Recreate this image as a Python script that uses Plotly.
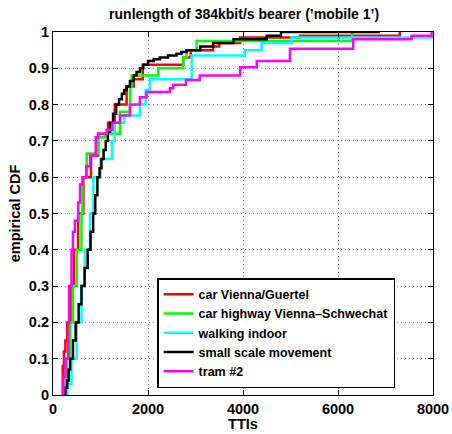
import plotly.graph_objects as go

# ---- data (step CDFs) ----
names = ["car Vienna/Guertel", "car highway Vienna\u2013Schwechat", "walking indoor",
         "small scale movement", "tram #2"]
colors = ["#ff0000", "#00ff00", "#00ffff", "#000000", "#ff00ff"]

red_x = [200, 205, 230, 260, 300, 370, 440, 530, 640, 800, 950, 1160, 1300, 1550, 1700,
         1890, 2740, 2900, 3370, 3500, 3940, 5200, 7300]
red_y = [0.0, 0.08, 0.12, 0.15, 0.2, 0.3, 0.4, 0.5, 0.6, 0.66, 0.72, 0.75, 0.8, 0.85, 0.87,
         0.91, 0.93, 0.95, 0.96, 0.97, 0.985, 0.99, 1.0]

green_x = [250, 270, 290, 360, 420, 500, 600, 620, 709, 954, 1100, 1410, 1621, 1656, 2217,
           2743, 2814, 3024, 6300]
green_y = [0.0, 0.05, 0.1, 0.2, 0.3, 0.4, 0.5, 0.6, 0.665, 0.71, 0.72, 0.78, 0.85, 0.88, 0.9,
           0.93, 0.95, 0.975, 1.0]

cyan_x = [270, 300, 390, 500, 600, 670, 780, 850, 1000, 1240, 1300, 1500, 1830, 1950, 2040,
          2920, 4040, 4390, 5020, 8050]
cyan_y = [0.0, 0.03, 0.1, 0.2, 0.3, 0.4, 0.5, 0.6, 0.65, 0.7, 0.75, 0.77, 0.8, 0.84, 0.87,
          0.935, 0.95, 0.97, 0.985, 1.0]

black_x = [250, 260, 300, 330, 360, 420, 477, 540, 600, 665, 730, 790, 845, 890, 935, 980,
           1020, 1065, 1110, 1155, 1200, 1265, 1330, 1390, 1450, 1500, 1550, 1620, 1700,
           1760, 1830, 1900, 2000, 2120, 2250, 2420, 2600, 2700, 2810, 3100, 3370, 3800,
           4500, 4800, 6880]
black_y = [0.0, 0.02, 0.04, 0.07, 0.1, 0.15, 0.2, 0.25, 0.3, 0.35, 0.4, 0.45, 0.5, 0.55,
           0.6, 0.625, 0.65, 0.675, 0.7, 0.725, 0.75, 0.775, 0.8, 0.815, 0.83, 0.84, 0.85,
           0.865, 0.88, 0.89, 0.9, 0.91, 0.92, 0.925, 0.93, 0.935, 0.94, 0.945, 0.95, 0.96,
           0.97, 0.98, 0.99, 1.0, 1.0]

mag_x = [210, 220, 260, 320, 340, 390, 420, 460, 530, 570, 620, 700, 780, 900, 950, 1130,
         1250, 1410, 1620, 1830, 1970, 2460, 2530, 2800, 3090, 3940, 4290, 4990, 6320,
         7550, 7970]
mag_y = [0.0, 0.05, 0.1, 0.2, 0.3, 0.4, 0.45, 0.48, 0.53, 0.58, 0.6, 0.63, 0.66, 0.71, 0.72,
         0.73, 0.75, 0.77, 0.8, 0.82, 0.835, 0.845, 0.855, 0.868, 0.88, 0.903, 0.92, 0.954,
         0.98, 0.99, 1.0]

series_x = [red_x, green_x, cyan_x, black_x, mag_x]
series_y = [red_y, green_y, cyan_y, black_y, mag_y]

x_ticks = [0, 2000, 4000, 6000, 8000]
y_ticks = [0, 0.1, 0.2, 0.3, 0.4, 0.5, 0.6, 0.7, 0.8, 0.9, 1.0]

FONT = "Liberation Sans"

fig = go.Figure()
for n, c, xs, ys in zip(names, colors, series_x, series_y):
    fig.add_trace(go.Scatter(x=xs, y=ys, mode="lines", name=n,
                             line=dict(color=c, width=2.5, shape="hv")))

axis_common = dict(showline=True, linecolor="black", linewidth=1.2, mirror="allticks",
                   ticks="inside", ticklen=5, tickcolor="black",
                   showgrid=True, gridcolor="#8c8c8c", griddash="1px,3px", gridwidth=1,
                   zeroline=False, automargin=False,
                   tickfont=dict(family=FONT, size=14.5, color="black", weight="bold"))

fig.update_layout(
    width=452, height=434,
    margin=dict(l=53, r=19, t=32, b=39),
    paper_bgcolor="white", plot_bgcolor="white",
    title=dict(text="runlength of 384kbit/s bearer (\u2019mobile 1\u2019)",
               x=0.54, xanchor="center", y=0.968, yanchor="middle",
               font=dict(family=FONT, size=14, color="black", weight="bold")),
    xaxis=dict(range=[0, 8000], tickvals=x_ticks, tickformat="d",
               title=dict(text="TTIs", standoff=0,
                          font=dict(family=FONT, size=14.5, color="black", weight="bold")),
               **axis_common),
    yaxis=dict(range=[0, 1], tickvals=y_ticks,
               title=dict(text="empirical CDF", standoff=4,
                          font=dict(family=FONT, size=14.5, color="black", weight="bold")),
               **axis_common),
    legend=dict(x=0.274, y=0.019, xanchor="left", yanchor="bottom",
                bgcolor="white", bordercolor="black", borderwidth=1.5,
                font=dict(family=FONT, size=12.5, color="black", weight="bold"),
                tracegroupgap=0, itemwidth=30),
    showlegend=True,
)

fig.write_html("out.html")
